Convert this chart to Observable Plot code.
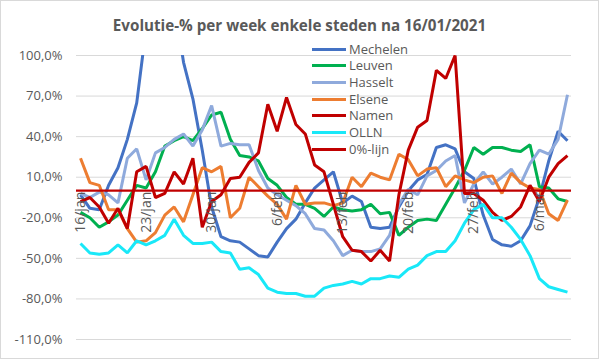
<!DOCTYPE html>
<html><head><meta charset="utf-8">
<script src="https://cdn.jsdelivr.net/npm/d3@7"></script>
<script src="https://cdn.jsdelivr.net/npm/@observablehq/plot@0.6"></script>
<style>
body{margin:0;background:#fff;}
#wrap{position:relative;width:599px;height:359px;font-family:"Open Sans",sans-serif;color:#595959;overflow:hidden;background:#fff}
#border{position:absolute;left:0;top:0;width:597px;height:357px;border:1px solid #D9D9D9;pointer-events:none}
#title{position:absolute;left:0;width:599px;top:18px;line-height:15px;text-align:center;font-weight:bold;font-size:15.2px}
#chart{position:absolute;left:0;top:0}
#legend{position:absolute;left:312px;top:41px}
.item{display:flex;align-items:center;height:16.67px;font-size:13px;line-height:13px}
.sw{width:34px;height:3px;margin-right:3px}
</style></head><body>
<div id="wrap"><div id="chart"></div><div id="title">Evolutie-% per week enkele steden na 16/01/2021</div><div id="legend"></div><div id="border"></div></div>
<script>
const seriesNames = ["Mechelen","Leuven","Hasselt","Elsene","Namen","OLLN"];
const seriesColors = ["#4472C4","#00B050","#8FAADC","#ED7D31","#C00000","#19E8F8"];
const zeroName = "0%-lijn";
const zeroColor = "#C00000";
const zeroLine = [0];

const mechelen = [-3,-13,-14,4,17,38,65,120,150,160,140,95,68,30,-12,-34,-37,-38,-43,-48,-49,-38,-28,-21,-9,2,8,14,-9,-4,-8,-27,-28,-27,-12,0,8,12,32,34,31,14,9,-18,-36,-40,-41,-37,-26,-5,22,44,37];
const leuven = [-16,-20,-27,-23,-18,-7,4,2,14,33,37,40,37,46,56,58,38,26,25,22,9,4,-5,-10,-10,-13,-19,-12,-14,-15,-14,-10,-17,-16,-33,-27,-22,-21,-22,-10,2,15,32,27,32,32,30,29,34,3,2,-6,-8];
const hasselt = [-2,-5,-1,-3,-9,24,31,8,28,32,38,42,33,45,63,33,35,34,34,15,2,-3,-7,-11,-17,-28,-29,-37,-48,-44,-45,-45,-43,-33,-10,1,-3,11,15,22,26,-9,5,14,5,10,16,5,20,30,27,38,71];
const elsene = [24,6,4,-14,-14,-28,-38,-37,-31,-18,-12,-23,-3,17,14,18,-20,-13,10,3,-4,-10,-21,4,-10,-9,-9,-11,-9,10,3,13,10,8,27,23,11,16,17,3,11,8,6,10,11,-2,13,6,2,1,-17,-22,-7];
const namen = [-8,-5,-12,-24,-13,-28,14,18,-5,-2,14,5,24,-27,-8,-3,9,10,21,28,64,44,69,49,42,19,14,-10,-34,-44,-45,-52,-44,-52,-3,30,47,52,89,83,100,-2,-2,-7,-16,-22,-19,-12,4,-8,10,20,26];
const olln = [-39,-46,-47,-46,-40,-46,-37,-40,-37,-33,-21,-33,-39,-39,-38,-45,-46,-58,-57,-62,-72,-75,-76,-76,-78,-78,-72,-70,-69,-67,-69,-65,-65,-63,-64,-58,-55,-48,-45,-45,-37,-24,-14,-10,-20,-20,-27,-36,-48,-65,-71,-73,-75];

const xTickLabels = ["16/jan","23/jan","30/jan","6/feb","13/feb","20/feb","27/feb","6/mar"];
const yTicks = [100,70,40,10,-20,-50,-80,-110];

const DAY = 864e5;
const start = Date.UTC(2021,0,16);
const dates = mechelen.map((_, i) => new Date(start + i*DAY));
const seriesValues = [mechelen, leuven, hasselt, elsene, namen, olln];
const rows = seriesNames.flatMap((name, s) => seriesValues[s].map((v, i) => ({date: dates[i], value: v, name})));
const ticks = xTickLabels.map((label, k) => ({label, date: dates[k*7]}));
const pad = 0.43*DAY;

const chart = Plot.plot({
  width: 599, height: 359,
  marginLeft: 76, marginRight: 28, marginTop: 55, marginBottom: 20,
  style: {fontFamily: "'Open Sans', sans-serif", fontSize: "13px", color: "#595959", background: "transparent"},
  x: {type: "utc", domain: [new Date(start - pad), new Date(dates[dates.length-1].getTime() + pad)], axis: null},
  y: {domain: [-110, 100]},
  color: {domain: seriesNames, range: seriesColors},
  marks: [
    Plot.ruleY(yTicks, {stroke: "#D9D9D9", strokeWidth: 1, strokeOpacity: 1}),
    Plot.axisY(yTicks, {tickSize: 0, tickPadding: 14, tickFormat: d => d.toFixed(1).replace(".", ",") + "%", label: null, fill: "#595959"}),
    Plot.lineY(rows, {x: "date", y: "value", z: "name", stroke: "name", strokeWidth: 3, clip: true, strokeLinejoin: "miter", strokeLinecap: "butt"}),
    Plot.ruleY(zeroLine, {stroke: zeroColor, strokeWidth: 2.25}),
    Plot.text(ticks, {x: "date", y: () => 0, text: "label", rotate: -90, textAnchor: "end", dy: 1, fill: "#595959", fontSize: 14})
  ]
});
document.getElementById("chart").appendChild(chart);

const legend = document.getElementById("legend");
seriesNames.concat([zeroName]).forEach((name, i) => {
  const color = i < seriesNames.length ? seriesColors[i] : zeroColor;
  const row = document.createElement("div");
  row.className = "item";
  row.innerHTML = `<span class="sw" style="background:${color}"></span><span>${name}</span>`;
  legend.appendChild(row);
});
</script>
</body></html>
